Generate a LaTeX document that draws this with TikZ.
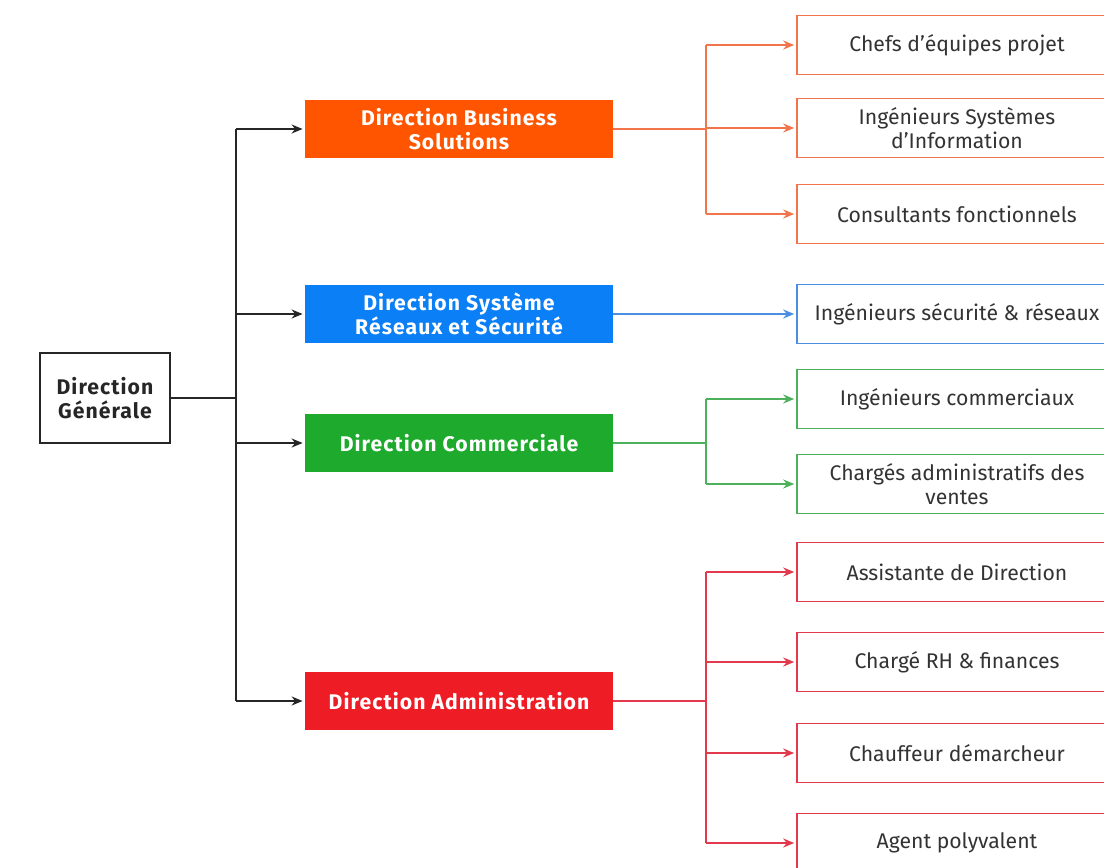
\documentclass[tikz,border=0pt]{standalone}
\usepackage{fontspec}
\setmainfont{Fira Sans}[Scale=1.06]
\usetikzlibrary{arrows.meta}
\definecolor{bsfill}{HTML}{FF5500}
\definecolor{bsline}{HTML}{F2744A}
\definecolor{srfill}{HTML}{0B7FF5}
\definecolor{srline}{HTML}{4A8FE2}
\definecolor{cofill}{HTML}{1DAA2D}
\definecolor{coline}{HTML}{4DB05A}
\definecolor{adfill}{HTML}{EE1C25}
\definecolor{adline}{HTML}{E23A4C}
\tikzset{
  head/.style={draw=black!85, line width=1pt, minimum width=65pt, minimum height=45pt, align=center, font=\bfseries\addfontfeature{LetterSpace=5}, text=black!85},
  dir/.style={fill=#1, minimum width=154pt, minimum height=29pt, align=center, text=white, font=\bfseries\addfontfeature{LetterSpace=5}},
  job/.style={draw=#1, fill=white, line width=0.8pt, minimum width=160pt, minimum height=29.5pt, align=center, text=black!80},
  link/.style={draw=#1, line width=0.9pt, shorten >=1pt, -{Stealth[length=5.5pt,width=4.5pt]}},
}
\begin{document}
\begin{tikzpicture}[x=0.5pt,y=-0.5pt]
\useasboundingbox (0,0) rectangle (1104,868);
% head and directions
\node[head] (dg) at (105,398) {Direction\\Générale};
\node[dir=bsfill] (dbs) at (459,129) {Direction Business\\Solutions};
\node[dir=srfill] (dsr) at (459,314) {Direction Système\\Réseaux et Sécurité};
\node[dir=cofill] (dco) at (459,443) {Direction Commerciale};
\node[dir=adfill] (dad) at (459,701) {Direction Administration};
\coordinate (trunk) at (236,398);
\draw[line width=1pt, black!85] (dg.east) -- (trunk);
\draw[line width=1pt, black!85] (dbs.west -| trunk) -- (dad.west -| trunk);
\foreach \n in {dbs,dsr,dco,dad}
  \draw[link=black!85, line width=1pt] (\n.west -| trunk) -- (\n.west);

% business solutions
\node[job=bsline] (chef) at (957,45) {Chefs d'équipes projet};
\node[job=bsline] (isi) at (957,128) {Ingénieurs Systèmes\\d'Information};
\node[job=bsline] (cons) at (957,214) {Consultants fonctionnels};
\coordinate (bbs) at (706,129);
\draw[line width=0.9pt, bsline] (dbs.east) -- (bbs);
\draw[line width=0.9pt, bsline] (chef.west -| bbs) -- (cons.west -| bbs);
\foreach \n in {chef,isi,cons}
  \draw[link=bsline] (\n.west -| bbs) -- (\n.west);

% systeme reseaux
\node[job=srline] (isr) at (957,314) {Ingénieurs sécurité \& réseaux};
\draw[link=srline] (dsr.east) -- (isr.west);

% commerciale
\node[job=coline] (icom) at (957,399) {Ingénieurs commerciaux};
\node[job=coline] (cadm) at (957,484) {Chargés administratifs des\\ventes};
\coordinate (bco) at (706,443);
\draw[line width=0.9pt, coline] (dco.east) -- (bco);
\draw[line width=0.9pt, coline] (icom.west -| bco) -- (cadm.west -| bco);
\foreach \n in {icom,cadm}
  \draw[link=coline] (\n.west -| bco) -- (\n.west);

% administration
\node[job=adline] (asst) at (957,572) {Assistante de Direction};
\node[job=adline] (crh) at (957,662) {Chargé RH \& finances};
\node[job=adline] (chau) at (957,753) {Chauffeur démarcheur};
\node[job=adline] (agent) at (957,843) {Agent polyvalent};
\coordinate (bad) at (706,701);
\draw[line width=0.9pt, adline] (dad.east) -- (bad);
\draw[line width=0.9pt, adline] (asst.west -| bad) -- (agent.west -| bad);
\foreach \n in {asst,crh,chau,agent}
  \draw[link=adline] (\n.west -| bad) -- (\n.west);
\end{tikzpicture}
\end{document}
